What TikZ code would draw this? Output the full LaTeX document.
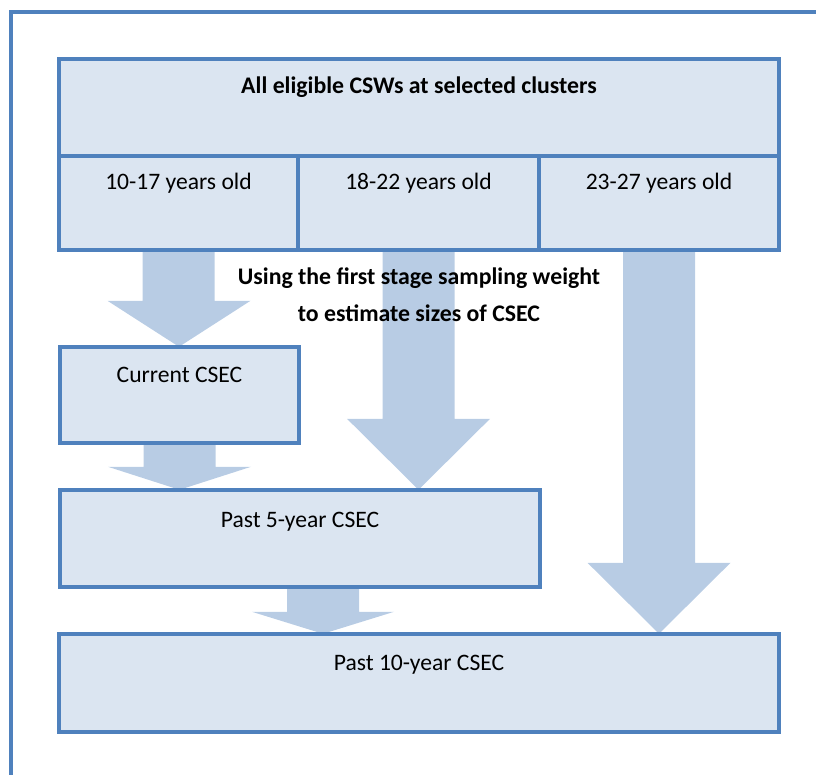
\documentclass[tikz,border=0pt]{standalone}
\usepackage{fontspec}
\setmainfont{Carlito}
\usetikzlibrary{calc}
\definecolor{edge}{HTML}{4F81BD}
\definecolor{boxfill}{HTML}{DBE5F1}
\definecolor{arrowfill}{HTML}{B8CCE4}
\begin{document}
\begin{tikzpicture}[x=1pt,y=1pt,
  lbl/.style={font=\fontsize{23.6}{28}\selectfont, anchor=base, inner sep=0pt, text=black},
  blbl/.style={font=\fontsize{23.8}{28}\selectfont\bfseries, anchor=base, inner sep=0pt, text=black}]
\useasboundingbox (0,0) rectangle (816,774);
\begin{scope}
  \clip (0,0) rectangle (816,774);
  \draw[edge, line width=4pt] (11,762) rectangle (840,-20);
\end{scope}

% box geometry (nodes first, so arrows can go behind the drawn boxes)
\path
  (419,666.5) node[minimum width=720, minimum height=97, inner sep=0pt] (top) {}
  (178.5,571) node[minimum width=239, minimum height=94, inner sep=0pt] (ca) {}
  (418.5,571) node[minimum width=241, minimum height=94, inner sep=0pt] (cb) {}
  (659,571)   node[minimum width=240, minimum height=94, inner sep=0pt] (cc) {}
  (179.5,379) node[minimum width=239, minimum height=96, inner sep=0pt] (cur) {}
  (300,235.5) node[minimum width=480, minimum height=97, inner sep=0pt] (pf) {}
  (419,91)    node[minimum width=720, minimum height=98, inner sep=0pt] (pt) {};

% arrows
\fill[arrowfill] let \p1=(ca.south), \p2=(cur.north) in
  (\x1-36,\y1) -- (\x1+36,\y1) -- (\x1+36,\y2+46) -- (\x1+72,\y2+46) -- (\x1+0.5,\y2)
  -- (\x1-71,\y2+46) -- (\x1-36,\y2+46) -- cycle;
\fill[arrowfill] let \p1=(cb.south), \p2=(pf.north) in
  (\x1-36,\y1) -- (\x1+36,\y1) -- (\x1+36,\y2+71) -- (\x1+71.5,\y2+71) -- (\x1,\y2)
  -- (\x1-71.5,\y2+71) -- (\x1-36,\y2+71) -- cycle;
\fill[arrowfill] let \p1=(cc.south), \p2=(pt.north) in
  (\x1-36,\y1) -- (\x1+36,\y1) -- (\x1+36,\y2+71) -- (\x1+71.5,\y2+71) -- (\x1,\y2)
  -- (\x1-71.5,\y2+71) -- (\x1-36,\y2+71) -- cycle;
\fill[arrowfill] let \p1=(cur.south), \p2=(pf.north) in
  (\x1-36,\y1) -- (\x1+36,\y1) -- (\x1+36,\y2+23) -- (\x1+71.5,\y2+23) -- (\x1,\y2)
  -- (\x1-71.5,\y2+23) -- (\x1-36,\y2+23) -- cycle;
\fill[arrowfill] let \p1=(pf.south), \p2=(pt.north) in
  (\x1-13,\y1) -- (\x1+59,\y1) -- (\x1+59,\y2+22) -- (\x1+94,\y2+22) -- (\x1+23,\y2)
  -- (\x1-48,\y2+22) -- (\x1-13,\y2+22) -- cycle;

% boxes
\foreach \n in {top,ca,cb,cc,cur,pf,pt}
  \draw[edge, fill=boxfill, line width=4pt] (\n.south west) rectangle (\n.north east);

% labels
\node[blbl] (ttop) at ($(top.north)+(0,-35)$) {All eligible CSWs at selected clusters};
\node[lbl] (ta) at ($(ca.north)+(0,-34)$) {10-17 years old};
\node[lbl] (tb) at ($(cb.north)+(0,-34)$) {18-22 years old};
\node[lbl] (tc) at ($(cc.north)+(0,-34)$) {23-27 years old};
\node[blbl] (m1) at ($(cb.south)+(0.5,-34)$) {Using the first stage sampling weight};
\node[blbl] (m2) at ($(cb.south)+(0.5,-71)$) {to estimate sizes of CSEC};
\node[lbl] (tcur) at ($(cur.north)+(0,-36)$) {Current CSEC};
\node[lbl] (tpf) at ($(pf.north)+(0,-38)$) {Past 5-year CSEC};
\node[lbl] (tpt) at ($(pt.north)+(0,-37)$) {Past 10-year CSEC};
\end{tikzpicture}
\end{document}
